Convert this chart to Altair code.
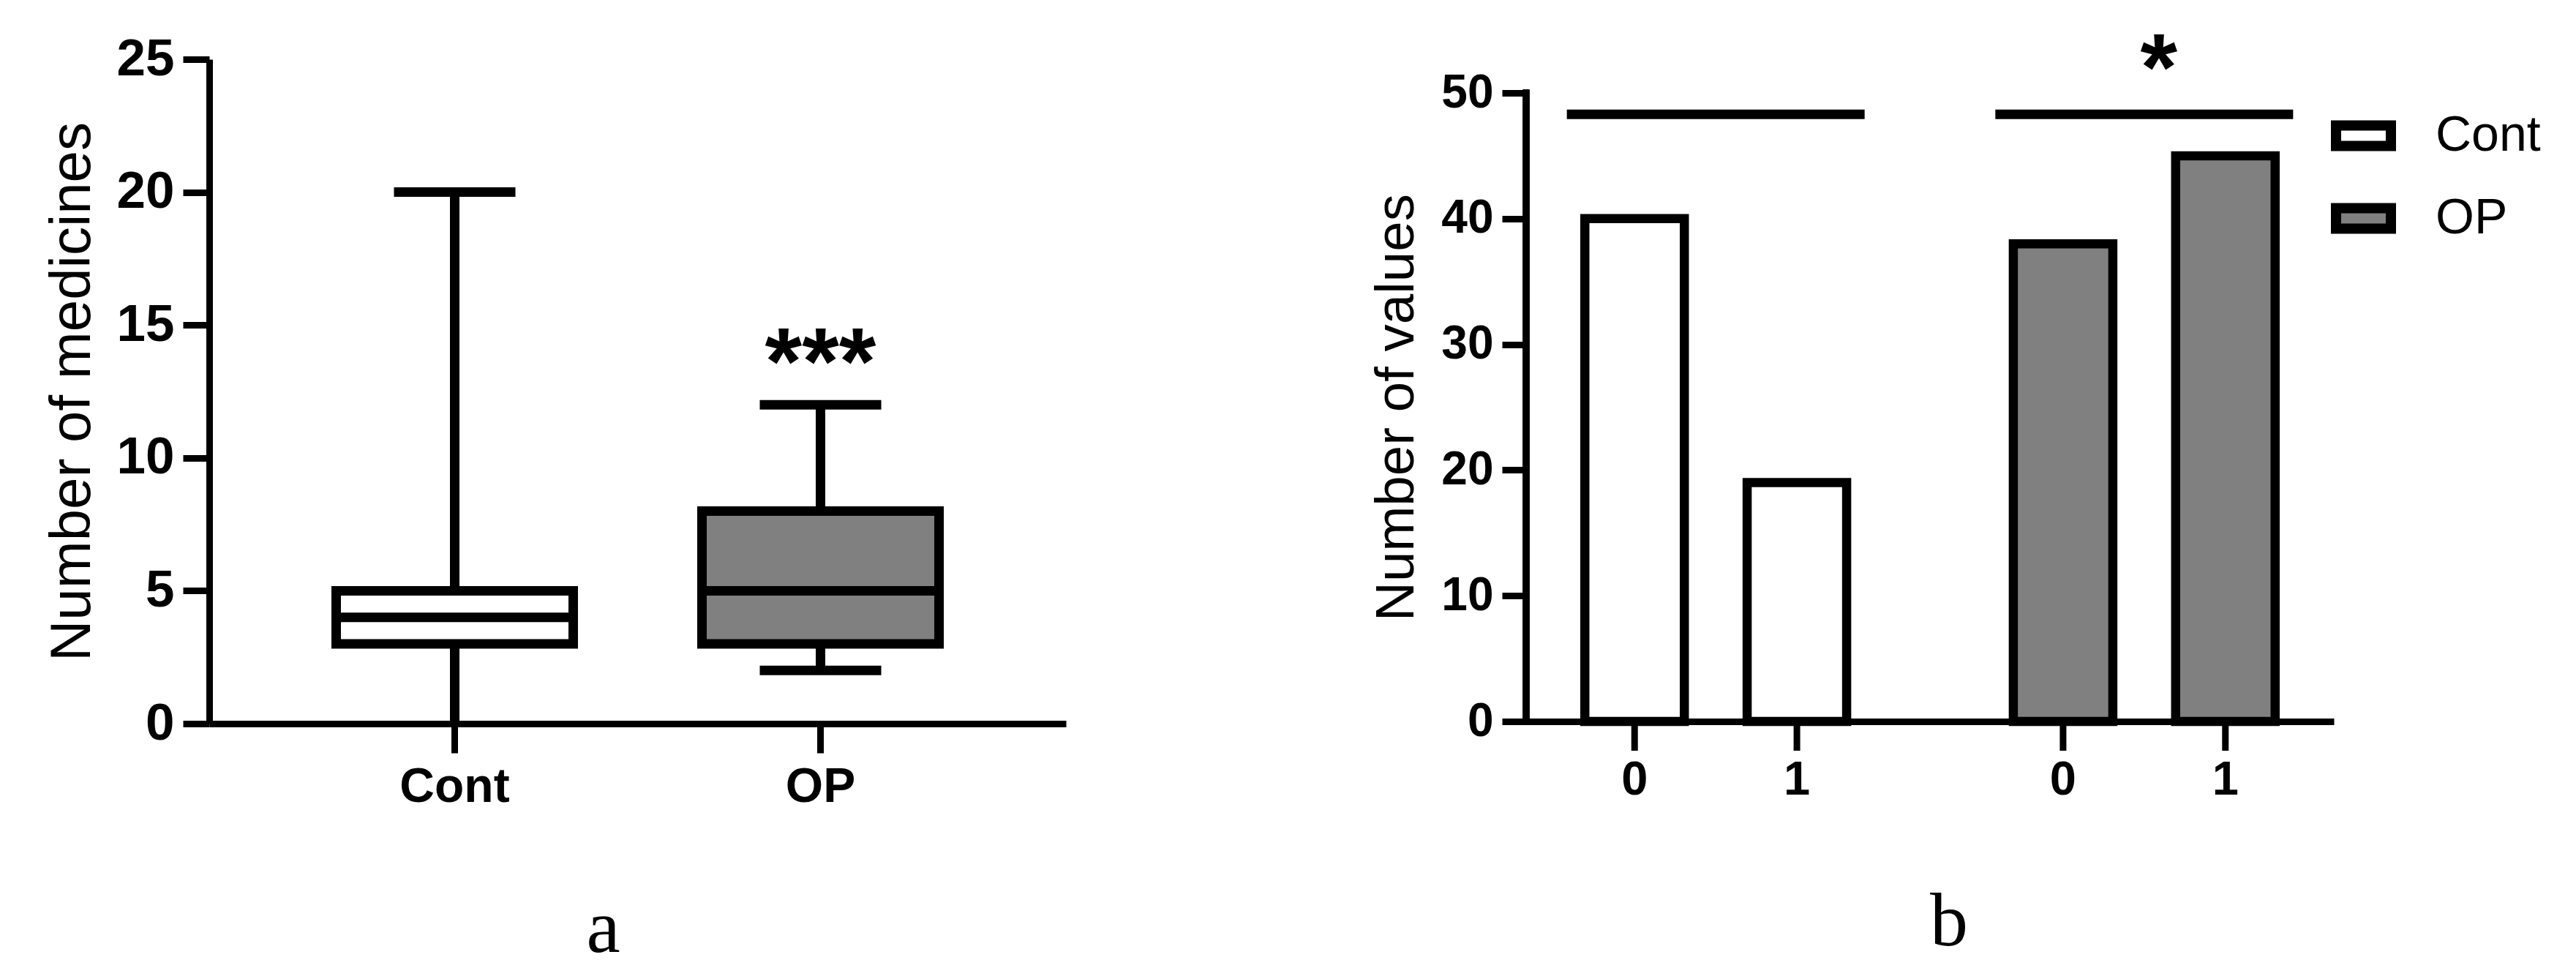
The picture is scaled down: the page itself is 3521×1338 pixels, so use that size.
import altair as alt
import pandas as pd

# ---------------- data: panel a (box plot) ----------------
box_groups = ["Cont", "OP"]
box_min = [0, 2]
box_q1 = [3, 3]
box_median = [4, 5]
box_q3 = [5, 8]
box_max = [20, 12]
box_fill = ["#ffffff", "#808080"]
star_a_group = ["OP"]
star_a_text = ["***"]
star_a_y = [12.4]

# ---------------- data: panel b (bars) ----------------
bar_groups = ["Cont", "Cont", "OP", "OP"]
bar_levels = ["0", "1", "0", "1"]
bar_counts = [40, 19, 38, 45]
sig_groups = ["Cont", "OP"]
sig_y = [48.3, 48.3]
sig_text = ["", "*"]
sig_text_y = [49.4, 49.4]

FONT = "Liberation Sans"
BLACK = "#000000"

# ---------------- panel a ----------------
WA, HA = 1171, 908
dfa = pd.DataFrame({"group": box_groups, "lo": box_min, "q1": box_q1,
                    "med": box_median, "q3": box_q3, "hi": box_max})

xa = alt.X("group:N", sort=box_groups,
           scale=alt.Scale(paddingInner=0.352, paddingOuter=0.347),
           axis=alt.Axis(title=None, labelFont=FONT, labelFontSize=66, labelFontWeight="bold",
                         labelColor=BLACK, labelAngle=0, labelPadding=14, tickSize=40, tickWidth=9,
                         tickColor=BLACK, domainColor=BLACK, domainWidth=9, grid=False))
ya_scale = alt.Scale(domain=[0, 25], nice=False)
ya_axis = alt.Axis(values=[0, 5, 10, 15, 20, 25], title="Number of medicines", titleFont=FONT,
                   titleFontSize=78, titleFontWeight="normal", titleColor=BLACK,
                   titleX=-164, titleY=HA / 2, titleBaseline="alphabetic",
                   labelFont=FONT, labelFontSize=71, labelFontWeight="bold", labelColor=BLACK,
                   labelPadding=12, tickSize=36, tickWidth=9, tickColor=BLACK,
                   domainColor=BLACK, domainWidth=9, grid=False)

base_a = alt.Chart(dfa)
whisk_lo = base_a.mark_rule(color=BLACK, strokeWidth=13).encode(
    x=xa, y=alt.Y("lo:Q", scale=ya_scale, axis=ya_axis), y2="q1:Q")
whisk_hi = base_a.mark_rule(color=BLACK, strokeWidth=13).encode(
    x=xa, y=alt.Y("q3:Q", scale=ya_scale, axis=ya_axis), y2="hi:Q")
box = base_a.mark_bar(stroke=BLACK, strokeWidth=13, opacity=1).encode(
    x=xa, y=alt.Y("q1:Q", scale=ya_scale, axis=ya_axis), y2="q3:Q",
    fill=alt.Fill("group:N", scale=alt.Scale(domain=box_groups, range=box_fill), legend=None))
median = base_a.mark_tick(color=BLACK, thickness=13, size=324, opacity=1).encode(
    x=xa, y=alt.Y("med:Q", scale=ya_scale, axis=ya_axis))
cap_hi = base_a.mark_tick(color=BLACK, thickness=13, size=166, opacity=1).encode(
    x=xa, y=alt.Y("hi:Q", scale=ya_scale, axis=ya_axis))
cap_lo = base_a.mark_tick(color=BLACK, thickness=13, size=166, opacity=1).transform_filter(
    "datum.lo > 0").encode(x=xa, y=alt.Y("lo:Q", scale=ya_scale, axis=ya_axis))

dfa_star = pd.DataFrame({"group": star_a_group, "text": star_a_text, "y": star_a_y})
star_a = alt.Chart(dfa_star).mark_text(font=FONT, fontSize=130, fontWeight="bold",
                                       baseline="alphabetic", color=BLACK).encode(
    x=xa, y=alt.Y("y:Q", scale=ya_scale, axis=ya_axis), text="text:N")

panel_a = alt.layer(whisk_lo, whisk_hi, box, median, cap_hi, cap_lo, star_a).properties(
    width=WA, height=HA,
    title=alt.TitleParams("a", orient="bottom", font="Liberation Serif", fontSize=104,
                          fontWeight="normal", color=BLACK, dx=-47, offset=193,
                          baseline="alphabetic"))

# ---------------- panel b ----------------
WB, HB = 1104, 905
YB_TOP = 52.68
dfb = pd.DataFrame({"group": bar_groups, "level": bar_levels, "count": bar_counts})

xb = alt.X("group:N", sort=["Cont", "OP"],
           scale=alt.Scale(paddingInner=0.389, paddingOuter=0.137),
           axis=alt.Axis(title=None, labels=False, ticks=False, domainColor=BLACK,
                         domainWidth=9, grid=False))
xo = alt.XOffset("level:N", sort=["0", "1"], scale=alt.Scale(paddingInner=0.387, paddingOuter=0))
yb_scale = alt.Scale(domain=[0, YB_TOP], nice=False)
yb_axis = alt.Axis(values=[0, 10, 20, 30, 40, 50], domain=False, title="Number of values",
                   titleFont=FONT, titleFontSize=74.5, titleFontWeight="normal", titleColor=BLACK,
                   titleX=-155, titleY=HB - 429.5, titleBaseline="alphabetic",
                   labelFont=FONT, labelFontSize=64, labelFontWeight="bold", labelColor=BLACK,
                   labelPadding=12, tickSize=33, tickWidth=9, tickColor=BLACK, grid=False)

base_b = alt.Chart(dfb)
bars = base_b.mark_bar(stroke=BLACK, strokeWidth=12.5, opacity=1).encode(
    x=xb, xOffset=xo, y=alt.Y("count:Q", scale=yb_scale, axis=yb_axis),
    fill=alt.Fill("group:N", scale=alt.Scale(domain=box_groups, range=box_fill),
                  legend=alt.Legend(title=None, orient="none", legendX=1100, legendY=60,
                                    symbolType="M-1,-0.373H1V0.373H-1Z", symbolSize=5625,
                                    symbolStrokeColor=BLACK, symbolStrokeWidth=14,
                                    symbolOpacity=1, labelFont=FONT, labelFontSize=68,
                                    labelColor=BLACK, labelOffset=54, rowPadding=26,
                                    padding=0)))
xticks = base_b.mark_rule(color=BLACK, strokeWidth=9).encode(
    x=xb, xOffset=xo, y=alt.value(HB), y2=alt.value(HB + 40))
xlabels = base_b.mark_text(font=FONT, fontSize=65, fontWeight="bold", baseline="middle",
                           color=BLACK).encode(
    x=xb, xOffset=xo, y=alt.value(HB + 80), text="level:N")
yline = base_b.mark_rule(color=BLACK, strokeWidth=9, strokeCap="square").encode(
    x=alt.value(0), y=alt.datum(0, scale=yb_scale), y2=alt.datum(50))

dfs = pd.DataFrame({"group": sig_groups, "y": sig_y, "text": sig_text, "ty": sig_text_y})
sig_lines = alt.Chart(dfs).mark_tick(color=BLACK, thickness=13, size=407, opacity=1).encode(
    x=xb, y=alt.Y("y:Q", scale=yb_scale, axis=yb_axis))
sig_star = alt.Chart(dfs).mark_text(font=FONT, fontSize=130, fontWeight="bold",
                                    baseline="alphabetic", color=BLACK, dx=20).encode(
    x=xb, y=alt.Y("ty:Q", scale=yb_scale, axis=yb_axis), text="text:N")

panel_b = alt.layer(bars, xticks, xlabels, yline, sig_lines, sig_star).properties(
    width=WB, height=HB,
    title=alt.TitleParams("b", orient="bottom", font="Liberation Serif", fontSize=104,
                          fontWeight="normal", color=BLACK, dx=26, offset=193,
                          baseline="alphabetic"))

chart = alt.hconcat(panel_a, panel_b, spacing=629, bounds="flush").resolve_scale(
    fill="independent").resolve_legend(fill="independent").configure_view(
    stroke=None).properties(background="white",
                            padding={"left": 51, "top": 25, "right": 0, "bottom": 0})

chart.save("out.html", embed_options={"renderer": "svg", "actions": False})
